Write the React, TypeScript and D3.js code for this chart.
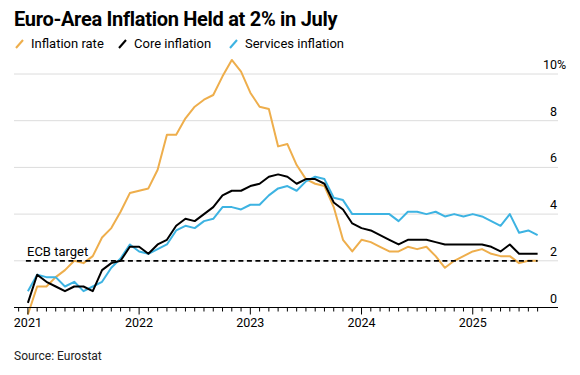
import React from "react";
import * as d3 from "d3";

const W = 580;
const H = 375;

// Monthly values from Dec 2020 to Jul 2025
const startYear = 2020;
const startMonth = 11; // December (0-based)

const inflationRate = [
  -0.3,
  0.9, 0.9, 1.3, 1.6, 2.0, 1.9, 2.2, 3.0, 3.4, 4.1, 4.9, 5.0,
  5.1, 5.9, 7.4, 7.4, 8.1, 8.6, 8.9, 9.1, 9.9, 10.6, 10.1, 9.2,
  8.6, 8.5, 6.9, 7.0, 6.1, 5.5, 5.3, 5.2, 4.3, 2.9, 2.4, 2.9,
  2.8, 2.6, 2.4, 2.4, 2.6, 2.5, 2.6, 2.2, 1.7, 2.0, 2.2, 2.4,
  2.5, 2.3, 2.2, 2.2, 1.9, 2.0, 2.0,
];
const coreInflation = [
  0.2,
  1.4, 1.1, 0.9, 0.7, 0.9, 0.9, 0.7, 1.6, 1.9, 2.0, 2.6, 2.6,
  2.3, 2.7, 2.9, 3.5, 3.8, 3.7, 4.0, 4.3, 4.8, 5.0, 5.0, 5.2,
  5.3, 5.6, 5.7, 5.6, 5.3, 5.5, 5.5, 5.3, 4.5, 4.2, 3.6, 3.4,
  3.3, 3.1, 2.9, 2.7, 2.9, 2.9, 2.9, 2.8, 2.7, 2.7, 2.7, 2.7,
  2.7, 2.6, 2.4, 2.7, 2.3, 2.3, 2.3,
];
const servicesInflation = [
  0.7,
  1.4, 1.3, 1.3, 0.9, 1.1, 0.7, 0.9, 1.1, 1.7, 2.1, 2.7, 2.4,
  2.3, 2.5, 2.7, 3.3, 3.5, 3.4, 3.7, 3.8, 4.3, 4.3, 4.2, 4.4,
  4.4, 4.8, 5.1, 5.2, 5.0, 5.4, 5.6, 5.5, 4.7, 4.6, 4.0, 4.0,
  4.0, 4.0, 4.0, 3.7, 4.1, 4.1, 4.0, 4.1, 3.9, 4.0, 3.9, 4.0,
  3.9, 3.7, 3.5, 4.0, 3.2, 3.3, 3.1,
];

const yearTicks = [2021, 2022, 2023, 2024, 2025];
const yTicks = [0, 2, 4, 6, 8, 10];
const ecbTarget = 2;

const seriesList = [
  { name: "Inflation rate", values: inflationRate, color: "#EEAE4C" },
  { name: "Services inflation", values: servicesInflation, color: "#3DB3E2" },
  { name: "Core inflation", values: coreInflation, color: "#000000" },
];
const legendItems = [
  { name: "Inflation rate", color: "#EEAE4C", x: 15 },
  { name: "Core inflation", color: "#000000", x: 118 },
  { name: "Services inflation", color: "#3DB3E2", x: 229 },
];

const FONT = "Roboto, 'Liberation Sans', Arial, sans-serif";

// month index t: 0 = Dec 2020 (plotted at start of Jan 2021)
const monthIndex = (year: number, month: number) =>
  (year - startYear) * 12 + (month - startMonth);

export default function App() {
  const x = d3.scaleLinear().domain([-1.5, 57.2]).range([14, 558]);
  const y = d3.scaleLinear().domain([0, 10]).range([307.5, 74]);

  const line = d3
    .line<number>()
    .x((_, i) => x(i))
    .y((d) => y(d));

  const n = inflationRate.length;
  const minorTicks = d3.range(-1, n);

  return (
    <svg
      width={W}
      height={H}
      style={{ position: "absolute", left: 0, top: 0, background: "#fff" }}
      fontFamily={FONT}
    >
      <text x={14} y={26} fontSize={20} fontWeight={700} fill="#000" letterSpacing={-0.3}>
        Euro-Area Inflation Held at 2% in July
      </text>

      {/* legend */}
      {legendItems.map((it) => (
        <g key={it.name} transform={`translate(${it.x},0)`}>
          <line x1={1} y1={48} x2={8} y2={40} stroke={it.color} strokeWidth={2} />
          <text x={16} y={48} fontSize={13} fill="#000">
            {it.name}
          </text>
        </g>
      ))}

      {/* gridlines */}
      {yTicks.slice(1).map((t) => (
        <line key={t} x1={14} x2={558} y1={y(t)} y2={y(t)} stroke="#dcdcdc" strokeWidth={1} />
      ))}

      {/* y labels */}
      {yTicks.map((t) => (
        <g key={t}>
          <text x={557} y={y(t) - 5} fontSize={12.5} fill="#000" textAnchor="end">
            {t}
          </text>
          {t === 10 ? (
            <text x={557} y={y(t) - 5} fontSize={12.5} fill="#000">
              %
            </text>
          ) : null}
        </g>
      ))}

      {/* lines */}
      {seriesList.map((s) => (
        <path
          key={s.name}
          d={line(s.values) || ""}
          fill="none"
          stroke={s.color}
          strokeWidth={2}
          strokeLinejoin="round"
        />
      ))}

      {/* ECB target */}
      <line
        x1={x(0) - 2}
        x2={x(n - 1)}
        y1={y(ecbTarget)}
        y2={y(ecbTarget)}
        stroke="#000"
        strokeWidth={1.8}
        strokeDasharray="5,3.5"
      />
      <text x={27} y={y(ecbTarget) - 5} fontSize={13} fill="#000">
        ECB target
      </text>

      {/* x axis */}
      <line x1={14} x2={558} y1={y(0)} y2={y(0)} stroke="#000" strokeWidth={1} />
      {minorTicks.map((t) => {
        const isYear = yearTicks.some((yr) => monthIndex(yr, 0) - 1 === t);
        return (
          <line
            key={t}
            x1={x(t)}
            x2={x(t)}
            y1={y(0)}
            y2={y(0) + (isYear ? 7 : 4)}
            stroke="#000"
            strokeWidth={1}
          />
        );
      })}
      {yearTicks.map((yr) => (
        <text
          key={yr}
          x={x(monthIndex(yr, 0) - 1)}
          y={327}
          fontSize={12.5}
          textAnchor="middle"
          fill="#000"
        >
          {yr}
        </text>
      ))}

      <text x={14} y={360} fontSize={12} fill="#222">
        Source: Eurostat
      </text>
    </svg>
  );
}
